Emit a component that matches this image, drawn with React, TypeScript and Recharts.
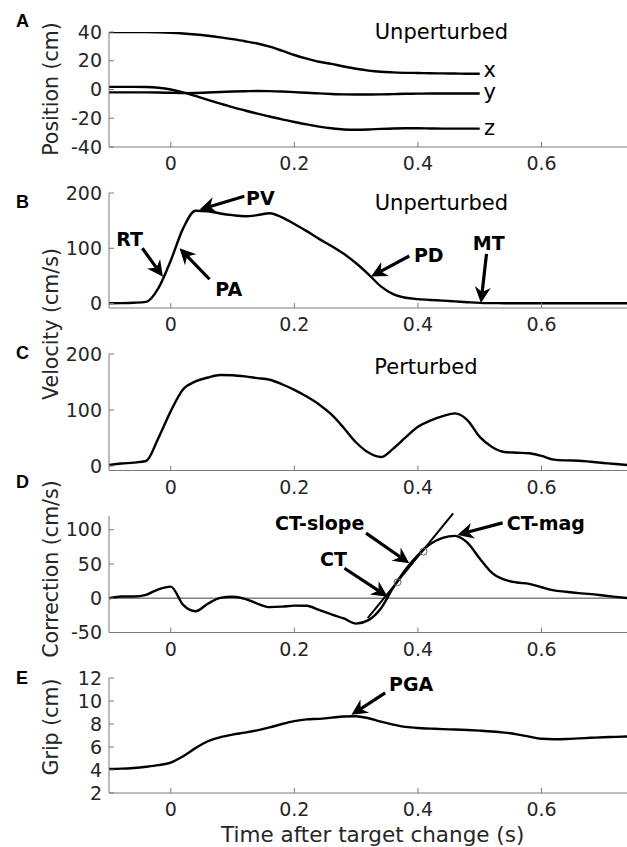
import React from 'react'
import { LineChart, Line, XAxis, YAxis, ReferenceLine, ReferenceDot } from 'recharts'

// time grid (s after target change)
const time = [
  -0.1, -0.08, -0.06, -0.04, -0.02, 0, 0.02, 0.04, 0.06, 0.08, 0.1, 0.12, 0.14, 0.16, 0.18,
  0.2, 0.22, 0.24, 0.26, 0.28, 0.3, 0.32, 0.34, 0.36, 0.38, 0.4, 0.42, 0.44, 0.46, 0.48,
  0.5, 0.52, 0.54, 0.56, 0.58, 0.6, 0.62, 0.64, 0.66, 0.68, 0.7, 0.72, 0.74,
]

// A: position, unperturbed (recorded up to 0.5 s)
const posX = [
  40, 40, 40, 40, 39.8, 39.5, 39, 38.3, 37.4, 36.3, 35, 33.6, 32, 29.8, 27, 24, 21.5, 19.3,
  17.8, 16, 14.4, 13.1, 12.3, 11.9, 11.6, 11.5, 11.3, 11.2, 11.1, 11, 11,
]
const posY = [
  -2, -2, -2, -2, -2.1, -2.3, -2.5, -2.4, -2.1, -1.7, -1.4, -1.2, -1, -1.1, -1.4, -1.8, -2.3,
  -2.7, -3.1, -3.4, -3.5, -3.5, -3.4, -3.2, -3, -2.9, -2.8, -2.8, -2.8, -2.8, -2.8,
]
const posZ = [
  1.8, 1.8, 1.8, 1.7, 1.2, 0, -2, -4.5, -7.2, -9.8, -12.3, -14.6, -16.8, -18.8, -20.8, -22.6,
  -24.3, -25.8, -27, -27.8, -28, -27.8, -27.4, -27.1, -27, -27, -27.1, -27.2, -27.2, -27.2, -27.2,
]

// B: velocity, unperturbed
const velUnpert = [
  0.5, 0.8, 1.5, 3, 28, 78, 136, 168, 167, 163, 160, 158, 160, 163.5, 156, 144, 131, 117, 104,
  90, 73, 53, 31, 17, 10.5, 8, 6.5, 5.4, 4, 2.5, 1.2, 0.8, 0.7, 0.6, 0.6, 0.5, 0.5, 0.5, 0.5,
  0.5, 0.5, 0.5, 0.5,
]

// C: velocity, perturbed
const velPert = [
  1.8, 4.5, 6, 9, 50, 98, 137, 151, 158, 162.5, 162, 160, 157, 154, 146, 136, 124, 110, 92, 68,
  42, 24, 16, 31, 51, 70, 81, 89, 94, 82, 52, 34, 25, 23.8, 22.8, 18, 11.5, 10, 9.5, 7.5, 5.5,
  3.5, 1.8,
]

// D: correction
const correction = [
  0, 2.5, 2.5, 5, 13, 17, -9.8, -19, -8, 0.5, 2.2, -0.8, -7.8, -13, -12.3, -10.8, -11, -17,
  -23.5, -29.5, -37, -32, -15, 15.5, 42, 63, 79, 88, 91, 81, 58, 37, 27, 23, 21, 16, 11.5, 9.5,
  7.5, 6, 4, 2, 0.3,
]

// E: grip aperture
const grip = [
  4.1, 4.12, 4.18, 4.28, 4.42, 4.65, 5.2, 5.9, 6.5, 6.85, 7.08, 7.25, 7.45, 7.7, 8, 8.25, 8.4,
  8.45, 8.55, 8.65, 8.68, 8.5, 8.2, 7.95, 7.75, 7.65, 7.6, 7.55, 7.52, 7.48, 7.42, 7.35, 7.25,
  7.1, 6.9, 6.72, 6.68, 6.7, 6.75, 6.8, 6.85, 6.88, 6.92,
]

const xTicks = [0, 0.2, 0.4, 0.6]

// annotations: label, arrow tail, arrow head, label centre (data units)
const velNotes = [
  { label: 'RT', from: [-0.046, 100], to: [-0.0127, 48.5], at: [-0.0666, 116.3] },
  { label: 'PA', from: [0.0627, 44], to: [0.0142, 100], at: [0.0937, 26.6] },
  { label: 'PV', from: [0.119, 194], to: [0.0466, 170], at: [0.1449, 190.6] },
  { label: 'PD', from: [0.386, 86], to: [0.324, 49], at: [0.4176, 86.5] },
  { label: 'MT', from: [0.511, 90], to: [0.502, 1.2], at: [0.5146, 108.3] },
]
const corrNotes = [
  { label: 'CT-slope', from: [0.316, 95], to: [0.386, 51], at: [0.241, 110] },
  { label: 'CT', from: [0.281, 43.8], to: [0.351, 2.3], at: [0.2632, 56.4] },
  { label: 'CT-mag', from: [0.537, 110], to: [0.464, 92.4], at: [0.607, 110] },
]
const gripNotes = [{ label: 'PGA', from: [0.347, 10.7], to: [0.2923, 8.8], at: [0.389, 11.42] }]

const slopeT = [0.3187, 0.457]
const slopeV = [-29, 124]
const markT = [0.367, 0.409]
const markV = [23.4, 68]

const rows = time.map((t, i) => ({
  t,
  x: posX[i],
  y: posY[i],
  z: posZ[i],
  vu: velUnpert[i],
  vp: velPert[i],
  c: correction[i],
  g: grip[i],
}))

const FONT = 'DejaVu Sans, sans-serif'
const AXIS = '#7a7a7a'
const INK = '#262626'
const TOP_PAD = 20

const ArrowShape = (props: any) => {
  const { x1, y1, x2, y2 } = props
  const dx = x2 - x1
  const dy = y2 - y1
  const len = Math.hypot(dx, dy) || 1
  const ux = dx / len
  const uy = dy / len
  const px = -uy
  const py = ux
  const L = 16
  const W = 8
  const N = 11
  const bx = x2 - ux * L
  const by = y2 - uy * L
  const nx = x2 - ux * N
  const ny = y2 - uy * N
  const pts = [
    [x2, y2],
    [bx + px * W, by + py * W],
    [nx, ny],
    [bx - px * W, by - py * W],
  ]
    .map(p => p.join(','))
    .join(' ')
  return (
    <g>
      <line x1={x1} y1={y1} x2={nx} y2={ny} stroke="#000" strokeWidth={3.2} />
      <polygon points={pts} fill="#000" />
    </g>
  )
}

const noteLabel = (value: string, bold = true) => ({
  value,
  position: 'center' as const,
  fill: '#000',
  fontSize: bold ? 19 : 21,
  fontWeight: bold ? 700 : 400,
  fontFamily: FONT,
})

const renderNotes = (notes: typeof velNotes) =>
  notes.flatMap(n => [
    <ReferenceLine
      key={n.label + '-arrow'}
      segment={[
        { x: n.from[0], y: n.from[1] },
        { x: n.to[0], y: n.to[1] },
      ]}
      ifOverflow="visible"
      shape={ArrowShape}
    />,
    <ReferenceDot
      key={n.label + '-text'}
      x={n.at[0]}
      y={n.at[1]}
      r={0}
      fill="none"
      stroke="none"
      ifOverflow="visible"
      label={noteLabel(n.label)}
    />,
  ])

const textDot = (key: string, t: number, v: number, value: string) => (
  <ReferenceDot
    key={key}
    x={t}
    y={v}
    r={0}
    fill="none"
    stroke="none"
    ifOverflow="visible"
    label={noteLabel(value, false)}
  />
)

interface PanelProps {
  top: number
  height: number
  yDomain: [number, number]
  yTicks: number[]
  children: React.ReactNode
}

function Panel({ top, height, yDomain, yTicks, children }: PanelProps) {
  return (
    <div style={{ position: 'absolute', left: 0, top: top - TOP_PAD }}>
      <LineChart
        width={628}
        height={height + TOP_PAD + 40}
        data={rows}
        margin={{ top: TOP_PAD, right: 0, bottom: 0, left: 0 }}
      >
        <XAxis
          type="number"
          dataKey="t"
          domain={[-0.1, 0.74]}
          ticks={xTicks}
          interval={0}
          allowDataOverflow
          tickFormatter={(v: number) => String(v)}
          height={40}
          tickSize={-5}
          tickMargin={15}
          stroke={AXIS}
          tick={{ fill: INK, fontSize: 19, fontFamily: FONT }}
        />
        <YAxis
          type="number"
          domain={yDomain}
          ticks={yTicks}
          interval={0}
          allowDataOverflow
          width={109}
          tickSize={-5}
          tickMargin={12}
          stroke={AXIS}
          tick={{ fill: INK, fontSize: 19, fontFamily: FONT }}
        />
        {children}
      </LineChart>
    </div>
  )
}

const lineProps = {
  type: 'monotone' as const,
  stroke: '#000',
  strokeWidth: 2.4,
  dot: false,
  isAnimationActive: false,
}

export default function App() {
  return (
    <div
      style={{
        position: 'absolute',
        left: 0,
        top: 0,
        width: 627,
        height: 847,
        overflow: 'hidden',
        background: '#fff',
      }}
    >
      <Panel top={32} height={115} yDomain={[-40, 40]} yTicks={[-40, -20, 0, 20, 40]}>
        <Line {...lineProps} dataKey="x" />
        <Line {...lineProps} dataKey="y" />
        <Line {...lineProps} dataKey="z" />
        {textDot('unp-a', 0.438, 40, 'Unperturbed')}
        {textDot('lx', 0.516, 13.8, 'x')}
        {textDot('ly', 0.516, -1.3, 'y')}
        {textDot('lz', 0.516, -26.2, 'z')}
      </Panel>

      <Panel top={193} height={115} yDomain={[-8, 200]} yTicks={[0, 100, 200]}>
        <Line {...lineProps} dataKey="vu" />
        {textDot('unp-b', 0.438, 182.6, 'Unperturbed')}
        {renderNotes(velNotes)}
      </Panel>

      <Panel top={354} height={116.5} yDomain={[-8, 200]} yTicks={[0, 100, 200]}>
        <Line {...lineProps} dataKey="vp" />
        {textDot('pert', 0.413, 177, 'Perturbed')}
      </Panel>

      <Panel top={516} height={116.5} yDomain={[-50, 120]} yTicks={[-50, 0, 50, 100]}>
        <ReferenceLine y={0} stroke="#808080" strokeWidth={1.3} />
        <Line {...lineProps} dataKey="c" />
        <ReferenceLine
          segment={[
            { x: slopeT[0], y: slopeV[0] },
            { x: slopeT[1], y: slopeV[1] },
          ]}
          ifOverflow="visible"
          stroke="#000"
          strokeWidth={2}
        />
        {markT.map((t, i) => (
          <ReferenceDot
            key={'mark' + i}
            x={t}
            y={markV[i]}
            r={3.5}
            fill="none"
            stroke="#666"
            strokeWidth={1}
          />
        ))}
        {renderNotes(corrNotes)}
      </Panel>

      <Panel top={678} height={115} yDomain={[2, 12]} yTicks={[2, 4, 6, 8, 10, 12]}>
        <Line {...lineProps} dataKey="g" />
        {renderNotes(gripNotes)}
      </Panel>

      <svg
        width={627}
        height={847}
        style={{ position: 'absolute', left: 0, top: 0, pointerEvents: 'none' }}
      >
        <g fontFamily="Liberation Sans, Arial, sans-serif" fontWeight={700} fontSize={18} fill="#000">
          <text x={16} y={26.5}>A</text>
          <text x={16} y={208}>B</text>
          <text x={16} y={358.5}>C</text>
          <text x={16} y={487.5}>D</text>
          <text x={16} y={684}>E</text>
        </g>
        <g fontFamily={FONT} fontSize={20.5} fill={INK} textAnchor="middle">
          <text x={57.5} y={89} transform="rotate(-90 57.5 89)">Position (cm)</text>
          <text x={57.5} y={324} transform="rotate(-90 57.5 324)">Velocity (cm/s)</text>
          <text x={57.5} y={569} transform="rotate(-90 57.5 569)">Correction (cm/s)</text>
          <text x={57.5} y={727} transform="rotate(-90 57.5 727)">Grip (cm)</text>
          <text x={372.7} y={841.5} fontSize={21.5}>Time after target change (s)</text>
        </g>
      </svg>
    </div>
  )
}
